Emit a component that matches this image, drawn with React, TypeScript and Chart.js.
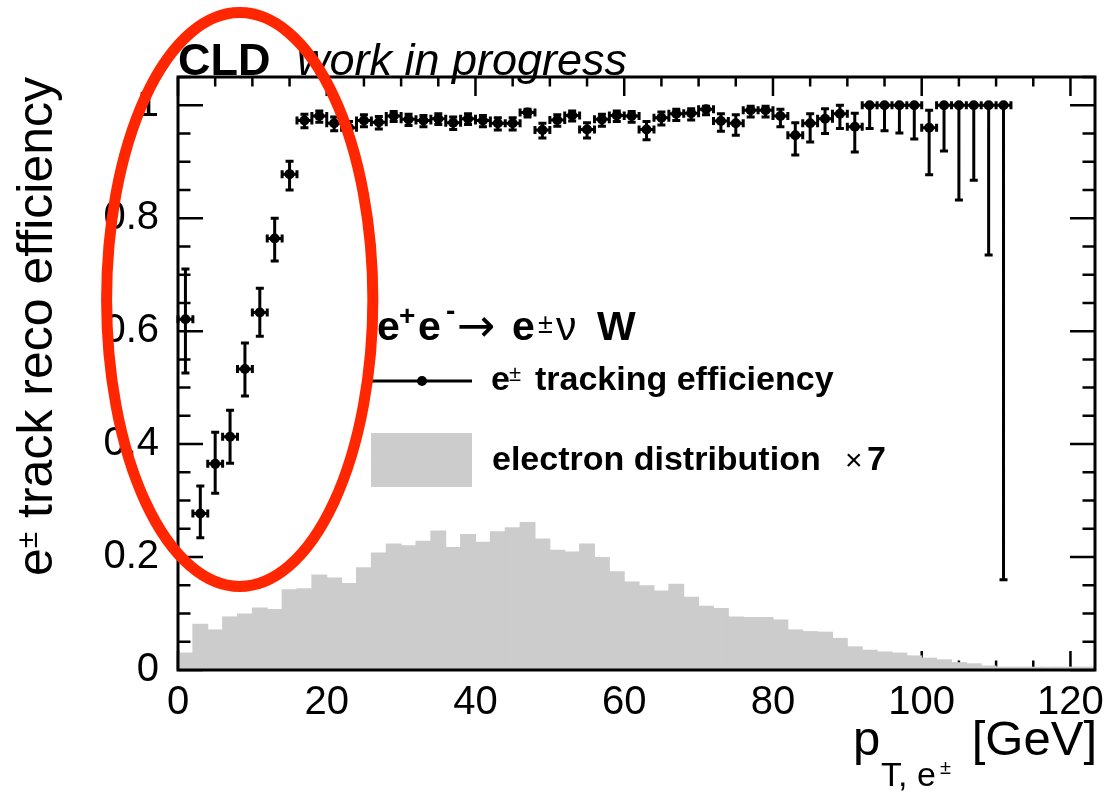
import React, { useEffect, useRef } from 'react';
import { Chart, registerables } from 'chart.js';

Chart.register(...registerables);

const FONT = '"Liberation Sans", Arial, Helvetica, sans-serif';

// ---- efficiency (2 GeV bins) ----
const effBinCenters = [1, 3, 5, 7, 9, 11, 13, 15, 17, 19, 21, 23, 25, 27, 29, 31, 33, 35, 37, 39, 41, 43, 45, 47, 49, 51, 53, 55, 57, 59, 61, 63, 65, 67, 69, 71, 73, 75, 77, 79, 81, 83, 85, 87, 89, 91, 93, 95, 97, 99, 101, 103, 105, 107, 109, 111];
const effValues = [0.621, 0.277, 0.365, 0.413, 0.533, 0.633, 0.764, 0.878, 0.973, 0.981, 0.968, 0.96, 0.973, 0.97, 0.981, 0.975, 0.973, 0.976, 0.969, 0.976, 0.973, 0.968, 0.968, 0.987, 0.956, 0.974, 0.982, 0.957, 0.975, 0.982, 0.981, 0.957, 0.978, 0.985, 0.986, 0.993, 0.972, 0.968, 0.991, 0.991, 0.981, 0.947, 0.968, 0.976, 0.985, 0.962, 1, 1, 1, 1, 0.96, 1, 1, 1, 1, 1];
const effErrLow = [0.095, 0.043, 0.052, 0.047, 0.048, 0.042, 0.04, 0.028, 0.013, 0.011, 0.013, 0.013, 0.011, 0.012, 0.01, 0.011, 0.011, 0.01, 0.012, 0.01, 0.011, 0.012, 0.012, 0.008, 0.014, 0.011, 0.01, 0.015, 0.012, 0.011, 0.011, 0.018, 0.013, 0.012, 0.012, 0.01, 0.018, 0.021, 0.012, 0.012, 0.019, 0.035, 0.033, 0.026, 0.026, 0.045, 0.041, 0.045, 0.049, 0.06, 0.083, 0.081, 0.168, 0.133, 0.265, 0.84];
const effErrHigh = [0.089, 0.049, 0.056, 0.047, 0.046, 0.043, 0.036, 0.023, 0.011, 0.009, 0.011, 0.011, 0.01, 0.01, 0.008, 0.009, 0.009, 0.009, 0.01, 0.009, 0.009, 0.01, 0.01, 0.006, 0.012, 0.009, 0.008, 0.012, 0.009, 0.008, 0.008, 0.014, 0.01, 0.008, 0.008, 0.005, 0.013, 0.015, 0.007, 0.007, 0.012, 0.022, 0.017, 0.018, 0.015, 0.024, 0, 0, 0, 0, 0.031, 0, 0, 0, 0, 0];
const effBinHalfWidth = 1;

// ---- electron distribution x 7 (2 GeV bins) ----
const histBinCenters = [1, 3, 5, 7, 9, 11, 13, 15, 17, 19, 21, 23, 25, 27, 29, 31, 33, 35, 37, 39, 41, 43, 45, 47, 49, 51, 53, 55, 57, 59, 61, 63, 65, 67, 69, 71, 73, 75, 77, 79, 81, 83, 85, 87, 89, 91, 93, 95, 97, 99, 101, 103, 105, 107, 109, 111, 113, 115, 117, 119, 121, 123];
const histValues = [
  0.03, 0.081, 0.071, 0.094, 0.099, 0.11, 0.107, 0.142, 0.144, 0.168,
  0.163, 0.153, 0.181, 0.207, 0.223, 0.22, 0.228, 0.246, 0.217, 0.24,
  0.226, 0.245, 0.252, 0.261, 0.232, 0.212, 0.209, 0.223, 0.199, 0.174,
  0.156, 0.149, 0.14, 0.152, 0.129, 0.113, 0.109, 0.094, 0.093, 0.093,
  0.0885, 0.071, 0.068, 0.067, 0.056, 0.041, 0.035, 0.032, 0.03, 0.025,
  0.021, 0.018, 0.013, 0.011, 0.007, 0.005, 0.005, 0.005, 0.005, 0.005,
  0.005, 0.005,
];

// ---- axes ----
const xTickValues = [0, 20, 40, 60, 80, 100, 120];
const xTickLabels = ['0', '20', '40', '60', '80', '100', '120'];
const yTickValues = [0, 0.2, 0.4, 0.6, 0.8, 1];
const yTickLabels = ['0', '0.2', '0.4', '0.6', '0.8', '1'];
const xRange = [0, 123.3];
const yRange = [0, 1.05];
const xMinorStep = 5;
const yMinorStep = 0.05;

// highlight annotation (data units)
const highlightEllipse = { cx: 8.3, cy: 0.656, rx: 17.9, ry: 0.508 };

type Run = { t: string; font: string; x: number; dy?: number };

function drawRuns(ctx: CanvasRenderingContext2D, y: number, runs: Run[]) {
  for (const r of runs) {
    ctx.font = r.font;
    ctx.fillText(r.t, r.x, y + (r.dy || 0));
  }
}

const rootPlugin = {
  id: 'rootStyle',
  beforeDatasetsDraw(chart: any) {
    const { ctx, chartArea: a, scales } = chart;
    const x = scales.x;
    const y = scales.y;
    ctx.save();
    ctx.strokeStyle = '#000';
    ctx.lineWidth = 2.5;
    ctx.beginPath();
    const nx = Math.floor((xRange[1] - xRange[0]) / xMinorStep + 1e-6);
    for (let i = 0; i <= nx; i++) {
      const v = xRange[0] + i * xMinorStep;
      const major = xTickValues.some((t) => Math.abs(t - v) < 1e-6);
      const len = major ? 19 : 9.5;
      const px = x.getPixelForValue(v);
      ctx.moveTo(px, a.bottom);
      ctx.lineTo(px, a.bottom - len);
      ctx.moveTo(px, a.top);
      ctx.lineTo(px, a.top + len);
    }
    const ny = Math.floor((yRange[1] - yRange[0]) / yMinorStep + 1e-6);
    for (let i = 0; i <= ny; i++) {
      const v = yRange[0] + i * yMinorStep;
      const major = yTickValues.some((t) => Math.abs(t - v) < 1e-6);
      const len = major ? 25 : 12.5;
      const py = y.getPixelForValue(v);
      ctx.moveTo(a.left, py);
      ctx.lineTo(a.left + len, py);
      ctx.moveTo(a.right, py);
      ctx.lineTo(a.right - len, py);
    }
    ctx.stroke();
    ctx.restore();
  },
  beforeDatasetDraw(chart: any, args: any) {
    if (args.index !== 0) return;
    const { ctx, scales } = chart;
    const x = scales.x;
    const y = scales.y;
    const cap = 4;
    ctx.save();
    ctx.strokeStyle = '#000';
    ctx.lineWidth = 3;
    ctx.beginPath();
    effBinCenters.forEach((c, i) => {
      const v = effValues[i];
      const px = x.getPixelForValue(c);
      const py = y.getPixelForValue(v);
      const xl = x.getPixelForValue(c - effBinHalfWidth);
      const xr = x.getPixelForValue(c + effBinHalfWidth);
      const yt = y.getPixelForValue(v + effErrHigh[i]);
      const yb = y.getPixelForValue(v - effErrLow[i]);
      ctx.moveTo(xl, py); ctx.lineTo(xr, py);
      ctx.moveTo(px, yt); ctx.lineTo(px, yb);
      ctx.moveTo(xl, py - cap); ctx.lineTo(xl, py + cap);
      ctx.moveTo(xr, py - cap); ctx.lineTo(xr, py + cap);
      ctx.moveTo(px - cap, yt); ctx.lineTo(px + cap, yt);
      ctx.moveTo(px - cap, yb); ctx.lineTo(px + cap, yb);
    });
    ctx.stroke();
    ctx.restore();
  },
  afterDatasetsDraw(chart: any) {
    const { ctx, chartArea: a } = chart;
    ctx.save();
    ctx.strokeStyle = '#000';
    ctx.lineWidth = 3;
    ctx.strokeRect(a.left, a.top, a.right - a.left, a.bottom - a.top);
    ctx.restore();
  },
  afterDraw(chart: any) {
    const { ctx, scales } = chart;
    const x = scales.x;
    const y = scales.y;
    ctx.save();
    ctx.fillStyle = '#000';
    ctx.textAlign = 'left';
    ctx.textBaseline = 'alphabetic';

    // top label
    drawRuns(ctx, 75, [
      { t: 'CLD', font: `bold 45px ${FONT}`, x: 178 },
      { t: 'work in progress', font: `italic 45px ${FONT}`, x: 297 },
    ]);

    // legend header
    drawRuns(ctx, 340, [
      { t: 'e', font: `bold 41px ${FONT}`, x: 377 },
      { t: '+', font: `bold 28px ${FONT}`, x: 399, dy: -15 },
      { t: 'e', font: `bold 41px ${FONT}`, x: 418 },
      { t: '-', font: `bold 28px ${FONT}`, x: 446, dy: -20 },
      { t: '\u2192', font: `46px "DejaVu Sans", ${FONT}`, x: 457, dy: 1 },
      { t: 'e', font: `bold 41px ${FONT}`, x: 512 },
      { t: '\u00b1', font: `27px ${FONT}`, x: 538, dy: -7 },
      { t: '\u03bd', font: `41px ${FONT}`, x: 556 },
      { t: 'W', font: `bold 41px ${FONT}`, x: 597 },
    ]);

    // legend entry 1: line + marker
    ctx.strokeStyle = '#000';
    ctx.lineWidth = 3;
    ctx.beginPath();
    ctx.moveTo(372, 381);
    ctx.lineTo(472, 381);
    ctx.stroke();
    ctx.beginPath();
    ctx.arc(422, 381, 5, 0, Math.PI * 2);
    ctx.fill();
    drawRuns(ctx, 390, [
      { t: 'e', font: `bold 34px ${FONT}`, x: 491 },
      { t: '\u00b1', font: `22px ${FONT}`, x: 509, dy: -9 },
      { t: 'tracking efficiency', font: `bold 34px ${FONT}`, x: 535 },
    ]);

    // legend entry 2: filled box
    ctx.fillStyle = '#cccccc';
    ctx.fillRect(371, 433, 101, 54);
    ctx.fillStyle = '#000';
    drawRuns(ctx, 470, [
      { t: 'electron distribution', font: `bold 34px ${FONT}`, x: 492 },
      { t: '\u00d7', font: `30px ${FONT}`, x: 845 },
      { t: '7', font: `bold 34px ${FONT}`, x: 867 },
    ]);

    // x axis title
    drawRuns(ctx, 755, [
      { t: 'p', font: `49px ${FONT}`, x: 853 },
      { t: 'T, e', font: `34px ${FONT}`, x: 881, dy: 31 },
      { t: '\u00b1', font: `20px ${FONT}`, x: 940, dy: 19 },
    ]);
    ctx.textAlign = 'right';
    ctx.font = `49px ${FONT}`;
    ctx.fillText('[GeV]', 1097, 755);

    // y axis title (rotated, aligned to top end)
    ctx.save();
    ctx.translate(52, 77);
    ctx.rotate(-Math.PI / 2);
    ctx.textAlign = 'left';
    const yRuns = [
      { t: 'e', font: `50px ${FONT}`, dy: 0 },
      { t: '\u00b1', font: `30px ${FONT}`, dy: -15 },
      { t: ' track reco efficiency', font: `50px ${FONT}`, dy: 0 },
    ];
    let total = 0;
    const widths = yRuns.map((r) => {
      ctx.font = r.font;
      const w = ctx.measureText(r.t).width;
      total += w;
      return w;
    });
    let cx = -total;
    yRuns.forEach((r, i) => {
      ctx.font = r.font;
      ctx.fillText(r.t, cx, r.dy);
      cx += widths[i];
    });
    ctx.restore();

    // red highlight ellipse
    const ex = x.getPixelForValue(highlightEllipse.cx);
    const ey = y.getPixelForValue(highlightEllipse.cy);
    const erx = x.getPixelForValue(highlightEllipse.cx + highlightEllipse.rx) - ex;
    const ery = ey - y.getPixelForValue(highlightEllipse.cy + highlightEllipse.ry);
    ctx.strokeStyle = '#ff2600';
    ctx.lineWidth = 11;
    ctx.beginPath();
    ctx.ellipse(ex, ey, erx, ery, 0, 0, Math.PI * 2);
    ctx.stroke();
    ctx.restore();
  },
};

export default function App() {
  const ref = useRef<HTMLCanvasElement>(null);
  useEffect(() => {
    const canvas = ref.current;
    if (!canvas) return;
    const chart = new Chart(canvas, {
      type: 'bar',
      data: {
        datasets: [
          {
            type: 'scatter',
            label: 'e± tracking efficiency',
            data: effBinCenters.map((c, i) => ({ x: c, y: effValues[i] })),
            pointRadius: 5,
            pointHoverRadius: 5,
            pointBackgroundColor: '#000',
            pointBorderWidth: 0,
            showLine: false,
            order: 0,
          } as any,
          {
            type: 'bar',
            label: 'electron distribution × 7',
            data: histBinCenters.map((c, i) => ({ x: c, y: histValues[i] })),
            backgroundColor: '#cccccc',
            borderWidth: 0,
            barPercentage: 1,
            categoryPercentage: 1,
            inflateAmount: 0.5,
            order: 1,
          } as any,
        ],
      },
      options: {
        animation: false,
        responsive: false,
        devicePixelRatio: 1,
        events: [],
        layout: { padding: { left: 0, top: 77, right: 20, bottom: 0 } },
        plugins: {
          legend: { display: false },
          tooltip: { enabled: false },
          title: { display: false },
        },
        scales: {
          x: {
            type: 'linear',
            min: xRange[0],
            max: xRange[1],
            offset: false,
            grid: { display: false, drawTicks: false },
            border: { display: false },
            afterBuildTicks: (axis: any) => {
              axis.ticks = xTickValues.map((v) => ({ value: v }));
            },
            afterFit: (axis: any) => {
              axis.height = 124;
            },
            ticks: {
              autoSkip: false,
              maxRotation: 0,
              padding: 9,
              color: '#000',
              font: { family: FONT, size: 40 },
              callback: (_v: any, i: number) => xTickLabels[i],
            },
          },
          y: {
            type: 'linear',
            min: yRange[0],
            max: yRange[1],
            grid: { display: false, drawTicks: false },
            border: { display: false },
            afterBuildTicks: (axis: any) => {
              axis.ticks = yTickValues.map((v) => ({ value: v }));
            },
            afterFit: (axis: any) => {
              axis.width = 178;
            },
            ticks: {
              autoSkip: false,
              padding: 19,
              color: '#000',
              font: { family: FONT, size: 40 },
              callback: (_v: any, i: number) => yTickLabels[i],
            },
          },
        },
      } as any,
      plugins: [rootPlugin as any],
    });
    return () => chart.destroy();
  }, []);

  return (
    <div style={{ position: 'absolute', left: 0, top: 0, width: 1115, height: 794, background: '#fff' }}>
      <canvas ref={ref} width={1115} height={794} style={{ display: 'block', width: 1115, height: 794 }} />
    </div>
  );
}
